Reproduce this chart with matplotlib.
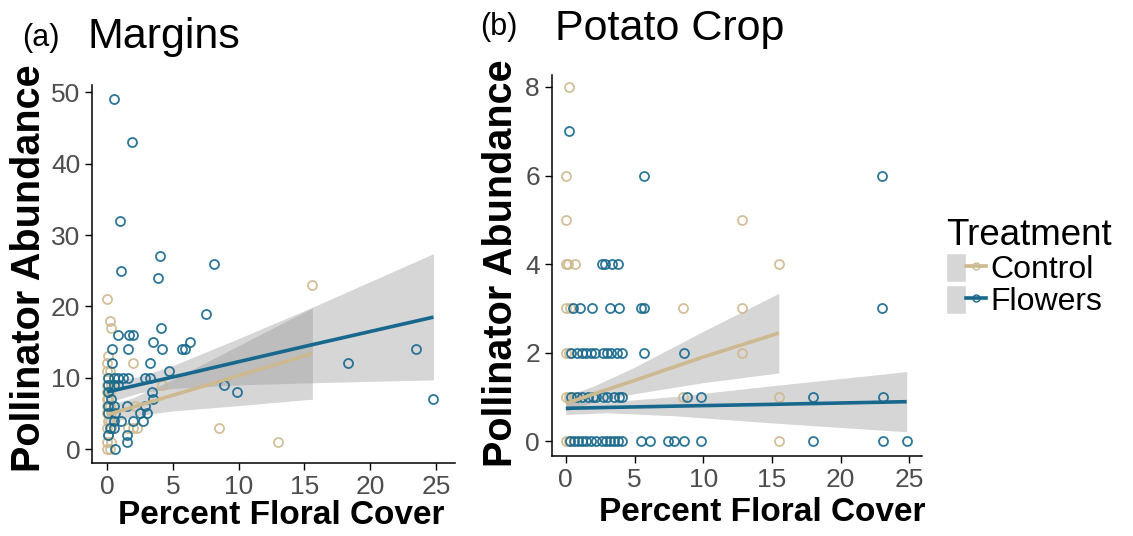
import matplotlib.pyplot as plt
from matplotlib.lines import Line2D
from matplotlib.patches import Patch
from matplotlib.legend_handler import HandlerTuple

plt.rcParams['font.family'] = ['Liberation Sans', 'DejaVu Sans']

TAN = '#CDB98F'
BLUE = '#17688C'
GREY_TXT = '#4D4D4D'

# ---- panel (a): margins ----
ctrl_a_x = [0.0, 0.2, 0.0, 0.3, 0.1, 0.0, 0.3, 0.1, 0.2, 0.0, 0.3, 0.0, 0.2, 0.0, 0.1,
            0.0, 0.2, 0.0, 0.3, 0.1, 0.0, 0.2, 0.0, 0.1, 0.3, 0.2, 0.0,
            1.6, 2.3, 2.1, 2.0, 2.0, 4.2, 8.5, 13.0, 15.6]
ctrl_a_y = [0, 0, 1, 1, 2, 3, 3, 4, 4, 5, 5, 6, 6, 7, 7,
            8, 8, 9, 9, 10, 11, 11, 12, 13, 17, 18, 21,
            3, 3, 6, 12, 3, 9, 3, 1, 23]

flow_a_x = [0.5, 1.9, 1.0, 1.1, 4.0, 3.9, 8.1, 7.5, 4.1, 0.8, 1.7, 2.0, 3.5, 6.3,
            0.4, 1.6, 4.2, 5.7, 5.9, 3.3, 4.7, 0.4,
            0.1, 0.5, 0.8, 1.2, 1.6, 2.9, 3.3,
            0.1, 0.5, 0.8, 8.9, 0.1, 3.4, 9.9, 0.3, 3.5,
            0.5, 1.5, 2.9, 0.1, 2.5, 3.0, 0.1, 0.6,
            0.5, 1.1, 2.0, 2.7, 0.2, 0.5, 0.1, 1.5, 1.5, 0.6,
            18.3, 23.5, 24.8]
flow_a_y = [49, 43, 32, 25, 27, 24, 26, 19, 17, 16, 16, 16, 15, 15,
            14, 14, 14, 14, 14, 12, 11, 12,
            10, 10, 10, 10, 10, 10, 10,
            9, 9, 9, 9, 8, 8, 8, 7, 7,
            6, 6, 6, 6, 5, 5, 5, 5,
            4, 4, 4, 4, 3, 3, 2, 2, 1, 0,
            12, 14, 7]

# fitted lines and confidence bands
fit_ctrl_a_x = [0, 2, 5, 10, 15.6]
fit_ctrl_a = [4.8, 5.9, 7.55, 10.3, 13.4]
fit_ctrl_a_lo = [3.5, 4.6, 5.35, 6.1, 7.0]
fit_ctrl_a_hi = [6.1, 7.2, 9.75, 14.5, 19.8]

fit_flow_a_x = [0, 2.5, 5, 10, 15.5, 24.8]
fit_flow_a = [8.0, 9.06, 10.1, 12.25, 14.6, 18.5]
fit_flow_a_lo = [6.5, 7.9, 8.5, 9.0, 9.3, 9.7]
fit_flow_a_hi = [9.5, 10.2, 11.7, 15.5, 19.8, 27.4]

# ---- panel (b): potato crop ----
ctrl_b_x = [0.2, 0.0, 0.0, 12.8, 0.0, 0.15, 0.65, 15.5, 0.0, 0.3, 8.5, 12.8,
            0.0, 0.2, 12.8, 0.0, 0.2, 0.6, 8.5, 15.5, 0.0, 0.2, 15.5]
ctrl_b_y = [8, 6, 5, 5, 4, 4, 4, 4, 3, 3, 3, 3,
            2, 2, 2, 1, 1, 1, 1, 1, 0, 0, 0]

flow_b_x = [0.2,
            5.7, 23.0,
            2.6, 2.85, 3.35, 3.8,
            0.5, 1.0, 1.9, 3.2, 3.9, 5.5, 5.7, 23.0,
            0.4, 0.8, 1.2, 1.5, 1.8, 2.1, 2.7, 3.0, 3.3, 3.7, 4.1, 5.7, 8.6,
            0.4, 0.8, 1.2, 1.6, 2.0, 2.2, 2.7, 3.0, 3.5, 3.9, 4.1, 8.8, 9.8, 18.0, 23.1,
            0.3, 0.6, 0.9, 1.2, 1.5, 1.8, 2.2, 2.6, 2.9, 3.2, 3.5, 3.8, 4.1,
            5.5, 6.1, 7.4, 7.9, 8.6, 9.8, 18.0, 23.1, 24.8]
flow_b_y = [7,
            6, 6,
            4, 4, 4, 4,
            3, 3, 3, 3, 3, 3, 3, 3,
            2, 2, 2, 2, 2, 2, 2, 2, 2, 2, 2, 2, 2,
            1, 1, 1, 1, 1, 1, 1, 1, 1, 1, 1, 1, 1, 1, 1,
            0, 0, 0, 0, 0, 0, 0, 0, 0, 0, 0, 0, 0,
            0, 0, 0, 0, 0, 0, 0, 0, 0]

fit_ctrl_b_x = [0, 2, 5, 10, 15.5]
fit_ctrl_b = [0.85, 1.06, 1.37, 1.9, 2.44]
fit_ctrl_b_lo = [0.68, 0.88, 1.07, 1.32, 1.54]
fit_ctrl_b_hi = [1.02, 1.24, 1.67, 2.48, 3.34]

fit_flow_b_x = [0, 3, 8, 15, 24.8]
fit_flow_b = [0.74, 0.76, 0.79, 0.83, 0.89]
fit_flow_b_lo = [0.60, 0.64, 0.57, 0.41, 0.21]
fit_flow_b_hi = [0.88, 0.88, 1.01, 1.25, 1.57]


def draw_panel(ax, cx, cy, fx, fy, fits):
    ax.plot(cx, cy, 'o', mfc='none', mec=TAN, mew=1.3, ms=6.5, alpha=0.9)
    ax.plot(fx, fy, 'o', mfc='none', mec=BLUE, mew=1.3, ms=6.5, alpha=0.9)
    for (x, y, lo, hi, col) in fits:
        ax.fill_between(x, lo, hi, color='#999999', alpha=0.4, lw=0)
        ax.plot(x, y, color=col, lw=2.6, solid_capstyle='butt')
    for s in ['top', 'right']:
        ax.spines[s].set_visible(False)
    for s in ['left', 'bottom']:
        ax.spines[s].set_linewidth(1.1)
    ax.tick_params(labelsize=19, labelcolor=GREY_TXT, length=5, width=1.0)
    ax.set_xticks([0, 5, 10, 15, 20, 25])
    ax.set_xlabel('Percent Floral Cover', fontsize=24, fontweight='bold')
    ax.set_ylabel('Pollinator Abundance', fontsize=28.5, fontweight='bold')


fig = plt.figure(figsize=(11.33, 5.36), dpi=100)
ax1 = fig.add_axes([0.0812, 0.136, 0.320, 0.705])
ax2 = fig.add_axes([0.487, 0.149, 0.3266, 0.711])

draw_panel(ax1, ctrl_a_x, ctrl_a_y, flow_a_x, flow_a_y, [
    (fit_ctrl_a_x, fit_ctrl_a, fit_ctrl_a_lo, fit_ctrl_a_hi, TAN),
    (fit_flow_a_x, fit_flow_a, fit_flow_a_lo, fit_flow_a_hi, BLUE),
])
ax1.set_xlim(-1.14, 26.4)
ax1.set_ylim(-1.96, 51.0)
ax1.set_yticks([0, 10, 20, 30, 40, 50])
ax1.xaxis.set_label_coords(0.523, -0.098)
ax1.yaxis.set_label_coords(-0.121, 0.516)

draw_panel(ax2, ctrl_b_x, ctrl_b_y, flow_b_x, flow_b_y, [
    (fit_ctrl_b_x, fit_ctrl_b, fit_ctrl_b_lo, fit_ctrl_b_hi, TAN),
    (fit_flow_b_x, fit_flow_b, fit_flow_b_lo, fit_flow_b_hi, BLUE),
])
ax2.set_xlim(-1.02, 25.9)
ax2.set_ylim(-0.34, 8.27)
ax2.set_yticks([0, 2, 4, 6, 8])
ax2.xaxis.set_label_coords(0.568, -0.108)
ax2.yaxis.set_label_coords(-0.086, 0.507)

fig.text(22 / 1133, 1 - 46 / 536, '(a)', fontsize=22, va='baseline')
fig.text(88 / 1133, 0.910, 'Margins', fontsize=31, va='baseline')
fig.text(480 / 1133, 1 - 35 / 536, '(b)', fontsize=22, va='baseline')
fig.text(555 / 1133, 0.925, 'Potato Crop', fontsize=31, va='baseline')

key_bg = Patch(facecolor='#D6D6D6', edgecolor='white', lw=1.0)
h_ctrl = (key_bg, Line2D([], [], color=TAN, lw=2.6, marker='o', ms=5, mfc='none', mec=TAN))
h_flow = (key_bg, Line2D([], [], color=BLUE, lw=2.6, marker='o', ms=5, mfc='none', mec=BLUE))
leg = fig.legend([h_ctrl, h_flow], ['Control', 'Flowers'],
                 handler_map={tuple: HandlerTuple(ndivide=None)},
                 loc='upper left', bbox_to_anchor=(946 / 1133, 1 - 218 / 536),
                 frameon=False, fontsize=23, title='Treatment', title_fontsize=26.5,
                 handlelength=1.25, handleheight=1.0, labelspacing=0.0,
                 handletextpad=0.15, borderaxespad=0, borderpad=0)
leg._legend_box.align = 'left'

fig.savefig('out.png', dpi=100)
